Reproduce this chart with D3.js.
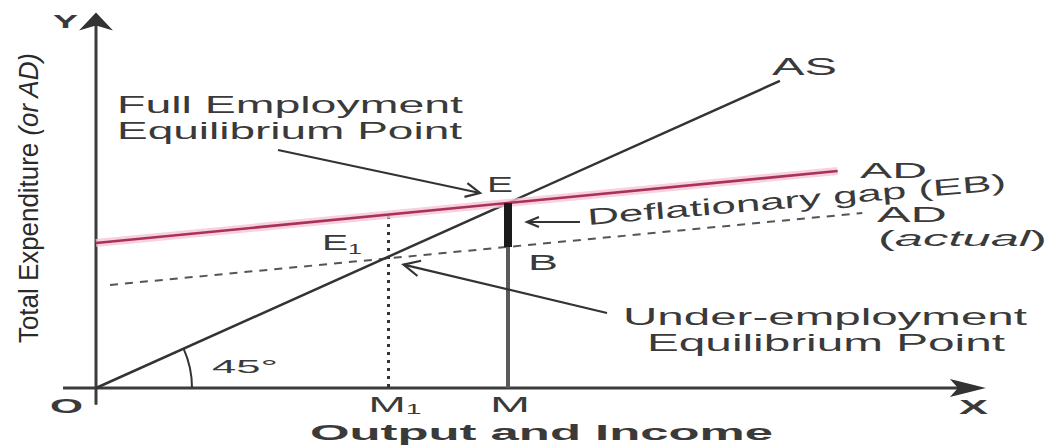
<!DOCTYPE html>
<html><head><meta charset="utf-8">
<script src="https://cdn.jsdelivr.net/npm/d3@7"></script>
<style>html,body{margin:0;padding:0;background:#fff;} svg{display:block;}</style>
</head><body>
<svg id="chart" width="1049" height="445"></svg>
<script>
// ---------- data (model units: output on x, total expenditure on y; AS is y = x) ----------
const xTickValues = [71, 100];
const xTickLabels = [["M", "1"], ["M", ""]];
const asCurve = [[0, 0], [166, 166]];
const adCurve = [[0, 78.4], [180, 117.3]];
const adActualCurve = [[3.4, 55.7], [186, 94.6]];
const pointE = [100, 100];
const pointE1 = [71, 71];
const pointB = [100, 76.2];
const m1Guide = [[71, 93], [71, 0]];
const xAxisExtent = [-8, 216];
const yAxisExtent = [-9, 203];

// ---------- scales ----------
const x = d3.scaleLinear().domain([0, 100]).range([96, 508]);
const y = d3.scaleLinear().domain([0, 100]).range([388, 203]);
const line = d3.line().x(d => x(d[0])).y(d => y(d[1]));

const svg = d3.select("#chart");
const TXT = "#3a3a3a";
const FONT = "'Liberation Sans', Arial, sans-serif";

function label(parts, px, py, len, size, opts = {}) {
  const t = svg.append("text")
    .attr("x", px).attr("y", py)
    .attr("font-family", FONT)
    .attr("font-size", size)
    .attr("font-weight", opts.bold ? "bold" : "normal")
    .attr("fill", opts.fill || TXT)
    .attr("textLength", len)
    .attr("lengthAdjust", "spacingAndGlyphs");
  if (opts.transform) t.attr("transform", opts.transform);
  parts.forEach(p => {
    const s = t.append("tspan").text(p.t);
    if (p.italic) s.attr("font-style", "italic");
    if (p.size) s.attr("font-size", p.size);
    if (p.dy) s.attr("dy", p.dy);
  });
  return t;
}

function arrow(x1, y1, x2, y2, head, ang, w) {
  const a = Math.atan2(y2 - y1, x2 - x1);
  svg.append("line").attr("x1", x1).attr("y1", y1).attr("x2", x2).attr("y2", y2)
    .attr("stroke", "#333").attr("stroke-width", w);
  const p = [[x2 - head * Math.cos(a - ang), y2 - head * Math.sin(a - ang)], [x2, y2],
             [x2 - head * Math.cos(a + ang), y2 - head * Math.sin(a + ang)]];
  svg.append("path").attr("d", d3.line()(p)).attr("fill", "none")
    .attr("stroke", "#333").attr("stroke-width", w).attr("stroke-linejoin", "miter");
}

// ---------- axes ----------
const axisColor = "#3c3c3c";
const yTop = y(yAxisExtent[1]), xRight = x(xAxisExtent[1]);
svg.append("path").attr("d", line([[xAxisExtent[0], 0], [xAxisExtent[1] - 6, 0]]))
  .attr("stroke", axisColor).attr("stroke-width", 3).attr("fill", "none");
svg.append("path").attr("d", line([[0, yAxisExtent[0]], [0, yAxisExtent[1] - 6]]))
  .attr("stroke", axisColor).attr("stroke-width", 3).attr("fill", "none");
svg.append("path").attr("d", `M${x(0)},${yTop} L${x(0) + 17},${yTop + 18} L${x(0)},${yTop + 13} L${x(0) - 17},${yTop + 18} Z`)
  .attr("fill", "#333");
svg.append("path").attr("d", `M${xRight},${y(0)} L${xRight - 36},${y(0) - 9} L${xRight - 28},${y(0)} L${xRight - 36},${y(0) + 9} Z`)
  .attr("fill", "#333");

// ---------- guide lines ----------
svg.append("path").attr("d", line(m1Guide)).attr("stroke", "#333")
  .attr("stroke-width", 3).attr("stroke-dasharray", "3,5").attr("fill", "none");
svg.append("path").attr("d", line([pointE, [pointE[0], 0]])).attr("stroke", "#5a5a5a")
  .attr("stroke-width", 4).attr("fill", "none");

// ---------- curves ----------
svg.append("path").attr("d", line(adActualCurve)).attr("stroke", "#555")
  .attr("stroke-width", 2).attr("stroke-dasharray", "8,7").attr("fill", "none");
svg.append("path").attr("d", line(asCurve)).attr("stroke", "#333")
  .attr("stroke-width", 2.5).attr("fill", "none");
svg.append("path").attr("d", line(adCurve)).attr("stroke", "#f6c4d6")
  .attr("stroke-width", 8).attr("fill", "none").attr("opacity", 0.8);
svg.append("path").attr("d", line(adCurve)).attr("stroke", "#a8325c")
  .attr("stroke-width", 2.6).attr("fill", "none");

// deflationary gap EB
svg.append("path").attr("d", line([pointE, pointB])).attr("stroke", "#1a1a1a")
  .attr("stroke-width", 8).attr("fill", "none");

// 45° arc
const r = 96, ang = Math.atan2(y(0) - y(asCurve[1][1]), x(asCurve[1][0]) - x(0));
svg.append("path")
  .attr("d", `M${x(0) + r * Math.cos(ang)},${y(0) - r * Math.sin(ang)} A${r},${r} 0 0 1 ${x(0) + r},${y(0)}`)
  .attr("stroke", "#333").attr("stroke-width", 2).attr("fill", "none");

// ---------- annotation arrows ----------
arrow(278, 150, x(pointE[0]) - 28, y(pointE[1]) - 10, 16, 0.45, 2.2);
arrow(607, 313, x(pointE1[0]) + 15, y(pointE1[1]) + 8, 18, 0.45, 2.2);
arrow(580, 222, x(pointB[0]) + 19, 222, 13, 0.4, 2.2);

// ---------- labels ----------
label([{t: "Y"}], 53, 28, 25, 19, {bold: true});
label([{t: "O"}], 50, 413, 33, 21, {bold: true});
label([{t: "X"}], 959, 414, 29, 21, {bold: true});
label([{t: "Output and Income"}], 310, 440, 463, 22, {bold: true});
xTickValues.forEach((v, i) => {
  const sub = xTickLabels[i][1];
  const parts = [{t: xTickLabels[i][0]}];
  if (sub) parts.push({t: sub, size: 14, dy: 2});
  const len = sub ? 53 : 40;
  const left = sub ? x(v) - 20 : x(v) - 18;
  label(parts, left, 412, len, 22);
});
label([{t: "Total Expenditure "}, {t: "(or AD)", italic: true}], 0, 0, 290, 27,
  {transform: "translate(38,343) rotate(-90)", fill: "#2a2a2a"});
label([{t: "Full Employment"}], 117, 113, 346, 24);
label([{t: "Equilibrium Point"}], 117, 139, 345, 24);
label([{t: "Under-employment"}], 623, 325, 404, 24);
label([{t: "Equilibrium Point"}], 647, 351, 358, 24);
label([{t: "AS"}], 772, 75, 65, 24);
label([{t: "AD"}], 860, 178, 67, 22);
label([{t: "AD"}], 877, 222, 70, 22);
label([{t: "("}, {t: "actual", italic: true}, {t: ")"}], 878, 246, 169, 22);
label([{t: "Deflationary gap (EB)"}], 0, 0, 420, 23,
  {transform: "translate(588,225) rotate(-4.8)"});
label([{t: "E"}], 487, 192, 26, 22);
label([{t: "E"}, {t: "1", size: 14, dy: 4}], 322, 250, 40, 22);
label([{t: "B"}], 528, 270, 30, 22);
label([{t: "45°"}], 212, 373, 66, 18);
</script>
</body></html>
